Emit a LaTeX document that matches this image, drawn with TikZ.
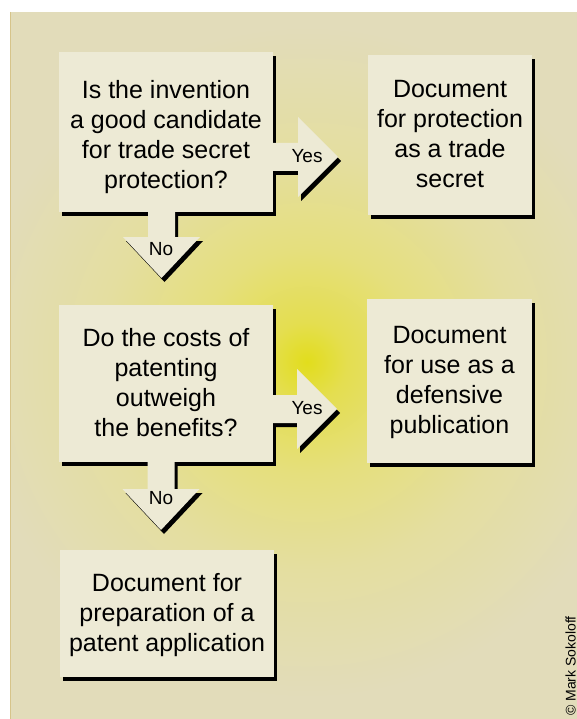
\documentclass[tikz,border=0pt]{standalone}
\usepackage{fontspec}
\setmainfont{Liberation Sans}
\usetikzlibrary{calc}
\definecolor{panel}{RGB}{226,220,186}
\definecolor{cream}{RGB}{237,234,213}
\definecolor{edgegold}{RGB}{214,196,138}
\definecolor{glowa}{RGB}{226,221,28}
\definecolor{glowb}{RGB}{228,222,80}
\definecolor{glowc}{RGB}{229,223,125}
\definecolor{glowd}{RGB}{228,222,160}
% with \shade on a circle, 25bp of the shading equals the circle's radius
\pgfdeclareradialshading{glow}{\pgfpoint{0bp}{0bp}}{color(0bp)=(glowa); color(2.5bp)=(glowb); color(7bp)=(glowc); color(13bp)=(glowd); color(21bp)=(panel); color(50bp)=(panel)}
\pgfdeclarelayer{bg}
\pgfdeclarelayer{shadowlayer}
\pgfsetlayers{bg,shadowlayer,main}
\tikzset{
  box/.style={fill=cream, inner sep=0pt},
  boxtext/.style={inner sep=0pt, align=center, text=black,
    font=\fontsize{25}{30}\selectfont},
  lbl/.style={inner sep=0pt, text=black, font=\fontsize{19}{19}\selectfont},
  pics/rarrow/.style={code={
    \begin{pgfonlayer}{shadowlayer}
      \fill[black,shift={(3,4)}] (-48,-14) -- (0,-14) -- (0,-40) -- (40,0) -- (0,40) -- (0,14) -- (-48,14) -- cycle;
    \end{pgfonlayer}
    \fill[cream] (-48,-14) -- (0,-14) -- (0,-40) -- (40,0) -- (0,40) -- (0,14) -- (-48,14) -- cycle;
  }},
  pics/darrow/.style={code={
    \begin{pgfonlayer}{shadowlayer}
      \fill[black,shift={(3,4)}] (-13.5,-40) -- (13.5,-40) -- (13.5,0) -- (38.5,0) -- (0,41) -- (-38.5,0) -- (-13.5,0) -- cycle;
    \end{pgfonlayer}
    \fill[cream] (-13.5,-40) -- (13.5,-40) -- (13.5,0) -- (38.5,0) -- (0,41) -- (-38.5,0) -- (-13.5,0) -- cycle;
  }}
}
\newcommand{\boxshadow}[1]{%
  \begin{pgfonlayer}{shadowlayer}
    \fill[black] ([shift={(3,4)}]#1.north west) rectangle ([shift={(3,4)}]#1.south east);
  \end{pgfonlayer}}
\begin{document}
\begin{tikzpicture}[x=1pt,y=-1pt]
\useasboundingbox (0,0) rectangle (577,719);
\begin{pgfonlayer}{bg}
  \begin{scope}
    \clip (0,0) rectangle (577,719);
    \fill[panel] (0,0) rectangle (577,719);
    \shade[shading=glow] (307,362) circle (400);
  \end{scope}
  \fill[white] (0,0) rectangle (577,12);
  \fill[white] (0,0) rectangle (10,719);
  \draw[edgegold, line width=1.2pt] (10.6,12) -- (10.6,719);
\end{pgfonlayer}

% boxes
\node[box, minimum width=214pt, minimum height=160pt] (b1) at (166,132) {};
\node[box, minimum width=164pt, minimum height=160pt] (b2) at (450,135) {};
\node[box, minimum width=214pt, minimum height=157pt] (b3) at (166,383.5) {};
\node[box, minimum width=165pt, minimum height=164pt] (b4) at (449.5,381) {};
\node[box, minimum width=214pt, minimum height=127pt] (b5) at (167,613.5) {};
\boxshadow{b1}\boxshadow{b2}\boxshadow{b3}\boxshadow{b4}\boxshadow{b5}
\node[boxtext] (t1) at ([yshift=-5pt]b1.center)
  {Is the invention\\a good candidate\\for trade secret\\protection?};
\node[boxtext] (t2) at ([yshift=1pt]b2.center)
  {Document\\for protection\\as a trade\\secret};
\node[boxtext] (t3) at ([yshift=1pt]b3.center)
  {Do the costs of\\patenting\\outweigh\\the benefits?};
\node[boxtext] (t4) at ([yshift=-1pt]b4.center)
  {Document\\for use as a\\defensive\\publication};
\node[boxtext] (t5) at ([yshift=-2pt]b5.center)
  {Document for\\preparation of a\\patent application};

% block arrows
\pic at (298,157) {rarrow};
\pic at (297,409) {rarrow};
\pic at (161.5,237) {darrow};
\pic at (161,489) {darrow};
\node[lbl] (yes1) at (307,156) {Yes};
\node[lbl] (yes2) at (307,408) {Yes};
\node[lbl] (no1) at (161,249) {No};
\node[lbl] (no2) at (161,498) {No};

% credit
\node[rotate=90, anchor=base west, inner sep=0pt, text=black,
  font=\fontsize{14}{14}\selectfont] (credit) at (575.5,716) {© Mark Sokoloff};
\end{tikzpicture}
\end{document}
